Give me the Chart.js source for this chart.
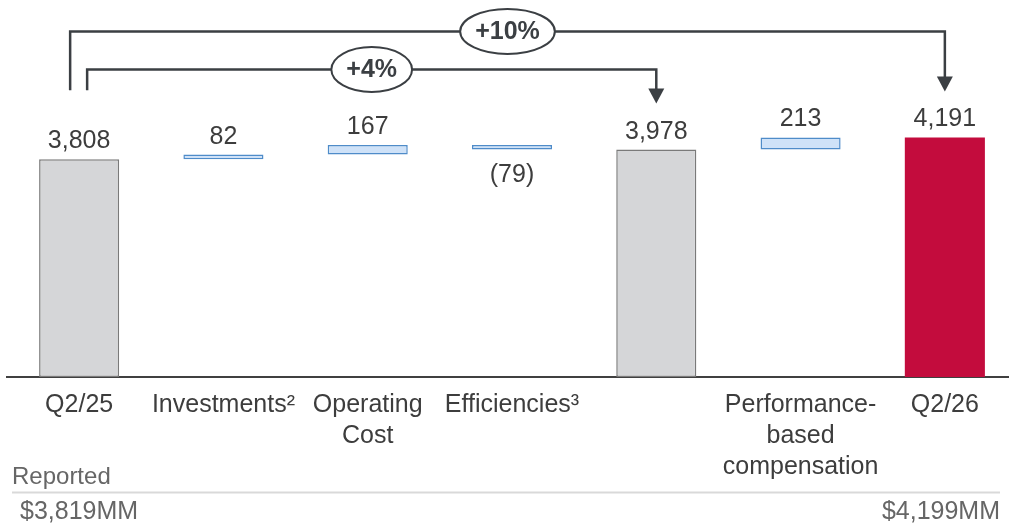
<!DOCTYPE html>
<html>
<head>
<meta charset="utf-8">
<script src="https://cdn.jsdelivr.net/npm/chart.js@4.4.1/dist/chart.umd.min.js"></script>
<style>
  html, body { margin: 0; padding: 0; background: #fff; overflow: hidden; }
  #wrap { width: 1017px; height: 526px; }
</style>
</head>
<body>
<div id="wrap"><canvas id="chart-area1" width="1017" height="526"></canvas></div>
<script>
// chart data
var categories = ['Q2/25', 'Investments²', ['Operating', 'Cost'], 'Efficiencies³', '', ['Performance-', 'based', 'compensation'], 'Q2/26'];
var amounts = [3808, 82, 167, -79, 3978, 213, 4191];
var barKinds = ['total', 'step', 'step', 'step', 'total', 'step', 'final'];
var amountLabels = ['3,808', '82', '167', '(79)', '3,978', '213', '4,191'];
var bracketFrom = [0, 0];
var bracketTo = [6, 4];
var bracketLabels = ['+10%', '+4%'];
var reportedTitle = 'Reported';
var reportedLabels = ['$3,819MM', '$4,199MM'];
var yMax = 6000;

var fills = { total: '#d5d6d8', step: '#cfe2f8', final: '#c30c3d' };
var borders = { total: '#7a7a7a', step: '#4f8cc9', final: '#c30c3d' };
var borderWidths = { total: 1.5, step: 1.5, final: 0 };
var textColor = '#3d3d3d';
var lineColor = '#3b3f43';
var fontName = '"Liberation Sans", Arial, sans-serif';

// waterfall ranges from the amounts
var floating = [];
var running = 0;
for (var i = 0; i < amounts.length; i++) {
  if (barKinds[i] == 'step') {
    floating.push([running, running + amounts[i]]);
    running += amounts[i];
  } else {
    floating.push([0, amounts[i]]);
    running = amounts[i];
  }
}

var waterfallExtras = {
  id: 'waterfallExtras',
  afterDraw: function(chart) {
    var ctx = chart.ctx;
    var meta = chart.getDatasetMeta(0);
    var area = chart.chartArea;
    var tops = [], bottoms = [];
    meta.data.forEach(function(bar) {
      tops.push(Math.min(bar.y, bar.base));
      bottoms.push(Math.max(bar.y, bar.base));
    });

    ctx.save();
    // value labels
    ctx.font = '25px ' + fontName;
    ctx.fillStyle = textColor;
    ctx.textAlign = 'center';
    ctx.textBaseline = 'alphabetic';
    for (var i = 0; i < meta.data.length; i++) {
      var x = meta.data[i].x;
      if (amounts[i] < 0) ctx.fillText(amountLabels[i], x, bottoms[i] + 32);
      else ctx.fillText(amountLabels[i], x, tops[i] - 11);
    }

    // growth brackets
    var topMost = Math.min.apply(null, tops);
    ctx.strokeStyle = lineColor;
    ctx.fillStyle = lineColor;
    ctx.lineWidth = 2.5;
    ctx.lineJoin = 'miter';
    for (var b = 0; b < bracketLabels.length; b++) {
      var from = meta.data[bracketFrom[b]];
      var to = meta.data[bracketTo[b]];
      var level = topMost - 68 - 38 * (bracketLabels.length - 1 - b);
      var x1 = from.x - 9 + 17 * b;
      var y1 = tops[bracketFrom[b]] - 69;
      var x2 = to.x;
      var tip = tops[bracketTo[b]] - 46;
      ctx.beginPath();
      ctx.moveTo(x1, y1);
      ctx.lineTo(x1, level);
      ctx.lineTo(x2, level);
      ctx.lineTo(x2, tip - 12);
      ctx.stroke();
      ctx.beginPath();
      ctx.moveTo(x2 - 8, tip - 15);
      ctx.lineTo(x2 + 8, tip - 15);
      ctx.lineTo(x2, tip);
      ctx.closePath();
      ctx.fill();

      ctx.font = 'bold 25px ' + fontName;
      var tw = ctx.measureText(bracketLabels[b]).width;
      var cx = (x1 + x2) / 2;
      ctx.beginPath();
      ctx.ellipse(cx, level, tw / 2 + 15, 22.5, 0, 0, Math.PI * 2);
      ctx.fillStyle = '#ffffff';
      ctx.fill();
      ctx.lineWidth = 2;
      ctx.stroke();
      ctx.lineWidth = 2.5;
      ctx.fillStyle = lineColor;
      ctx.textAlign = 'center';
      ctx.textBaseline = 'middle';
      ctx.fillText(bracketLabels[b], cx, level + 1);
    }

    // reported row
    ctx.fillStyle = '#666666';
    ctx.textBaseline = 'alphabetic';
    ctx.font = '24px ' + fontName;
    ctx.textAlign = 'left';
    ctx.fillText(reportedTitle, area.left + 5, 484);
    ctx.strokeStyle = '#d9d9d9';
    ctx.lineWidth = 2;
    ctx.beginPath();
    ctx.moveTo(area.left + 5, 492.5);
    ctx.lineTo(1000, 492.5);
    ctx.stroke();
    ctx.font = '25px ' + fontName;
    ctx.fillText(reportedLabels[0], area.left + 13, 519);
    ctx.textAlign = 'right';
    ctx.fillText(reportedLabels[1], 1000, 519);
    ctx.restore();
  }
};

var config = {
  type: 'bar',
  data: {
    labels: categories,
    datasets: [{
      data: floating,
      backgroundColor: barKinds.map(function(k) { return fills[k]; }),
      borderColor: barKinds.map(function(k) { return borders[k]; }),
      borderWidth: barKinds.map(function(k) { return borderWidths[k]; }),
      borderSkipped: false,
      categoryPercentage: 1,
      barPercentage: 0.555
    }]
  },
  options: {
    responsive: false,
    animation: false,
    devicePixelRatio: 1,
    layout: { padding: { top: 34, left: 7, right: 0, bottom: 38 } },
    plugins: {
      legend: { display: false },
      tooltip: { enabled: false }
    },
    scales: {
      x: {
        grid: { display: false },
        border: { display: true, color: '#404040', width: 2 },
        ticks: {
          color: textColor,
          padding: 5,
          maxRotation: 0,
          autoSkip: false,
          font: { family: fontName, size: 25, lineHeight: 1.24 }
        }
      },
      y: { display: false, min: 0, max: yMax }
    }
  },
  plugins: [waterfallExtras]
};

var ctx = document.getElementById('chart-area1');
window.myWaterfall = new Chart(ctx, config);
</script>
</body>
</html>
